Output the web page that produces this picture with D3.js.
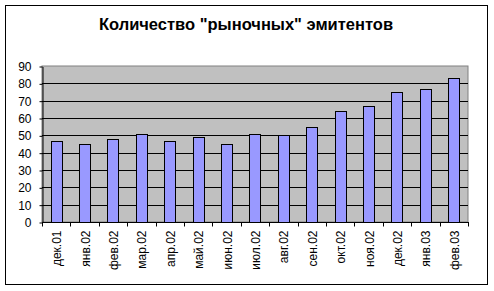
<!DOCTYPE html>
<html>
<head>
<meta charset="utf-8">
<script src="https://cdn.jsdelivr.net/npm/d3@7"></script>
<style>
  body { margin: 0; background: #fff; }
  svg { display: block; font-family: Arial, "Liberation Sans", sans-serif; }
</style>
</head>
<body>
<div id="chart"></div>
<script>
const months = ["дек.01", "янв.02", "фев.02", "мар.02", "апр.02", "май.02", "июн.02", "июл.02",
  "авг.02", "сен.02", "окт.02", "ноя.02", "дек.02", "янв.03", "фев.03"];
const issuers = [47, 45, 48, 51, 47, 49, 45, 51, 50, 55, 64, 67, 75, 77, 83];
const yTicks = [0, 10, 20, 30, 40, 50, 60, 70, 80, 90];

const width = 494, height = 291;
const plot = { left: 42, right: 468, top: 66, bottom: 222 };

const svg = d3.select("#chart").append("svg")
  .attr("width", width)
  .attr("height", height);

// chart frame
svg.append("rect")
  .attr("x", 5.5).attr("y", 5.5)
  .attr("width", 482).attr("height", 279)
  .attr("fill", "#fff")
  .attr("stroke", "#000");

svg.append("text")
  .attr("x", 246)
  .attr("y", 30)
  .attr("text-anchor", "middle")
  .style("font-size", "16.5px")
  .style("font-weight", "bold")
  .text('Количество "рыночных" эмитентов');

const x = d3.scaleBand()
  .domain(months)
  .range([plot.left, plot.right])
  .paddingInner(0.61)
  .paddingOuter(0.305);

const y = d3.scaleLinear()
  .domain([0, 90])
  .range([plot.bottom, plot.top]);

// plot area
svg.append("rect")
  .attr("x", plot.left).attr("y", plot.top)
  .attr("width", plot.right - plot.left)
  .attr("height", plot.bottom - plot.top)
  .attr("fill", "#c0c0c0")
  .attr("stroke", "#808080");

svg.append("g")
  .selectAll("line")
  .data(yTicks.slice(1, -1))
  .enter()
  .append("line")
  .attr("x1", plot.left).attr("x2", plot.right)
  .attr("y1", d => Math.round(y(d)) + 0.5)
  .attr("y2", d => Math.round(y(d)) + 0.5)
  .attr("stroke", "#000");

svg.append("g")
  .selectAll("rect")
  .data(issuers)
  .enter()
  .append("rect")
  .attr("x", (d, i) => Math.round(x(months[i])) + 0.5)
  .attr("y", d => Math.round(y(d)) + 0.5)
  .attr("width", Math.round(x.bandwidth()))
  .attr("height", d => Math.round(y(0)) - Math.round(y(d)))
  .attr("fill", "#9999ff")
  .attr("stroke", "#000");

// y axis
const yAxis = svg.append("g")
  .attr("transform", `translate(${plot.left + 0.5},0.5)`)
  .call(d3.axisLeft(y).tickValues(yTicks).tickSize(3).tickSizeOuter(0));
yAxis.select(".domain").attr("stroke", "#000");
yAxis.selectAll("text")
  .style("font-size", "12px")
  .style("font-family", "Arial, 'Liberation Sans', sans-serif")
  .attr("fill", "#000")
  .attr("x", -11);

// x axis: ticks at band edges
const edges = months.map(m => x(m) - x.step() * x.paddingInner() / 2);
edges.push(plot.right);
const xAxis = svg.append("g").attr("transform", `translate(0,${plot.bottom + 0.5})`);
xAxis.append("line")
  .attr("x1", plot.left).attr("x2", plot.right + 1)
  .attr("stroke", "#000");
xAxis.selectAll(".tick")
  .data(edges)
  .enter()
  .append("line")
  .attr("x1", d => Math.round(d) + 0.5)
  .attr("x2", d => Math.round(d) + 0.5)
  .attr("y1", 0).attr("y2", 4)
  .attr("stroke", "#000");
xAxis.selectAll(".lbl")
  .data(months)
  .enter()
  .append("text")
  .attr("transform", d => `translate(${x(d) + x.bandwidth() / 2 + 5},8) rotate(-90)`)
  .attr("text-anchor", "end")
  .style("font-size", "12px")
  .text(d => d);
</script>
</body>
</html>
